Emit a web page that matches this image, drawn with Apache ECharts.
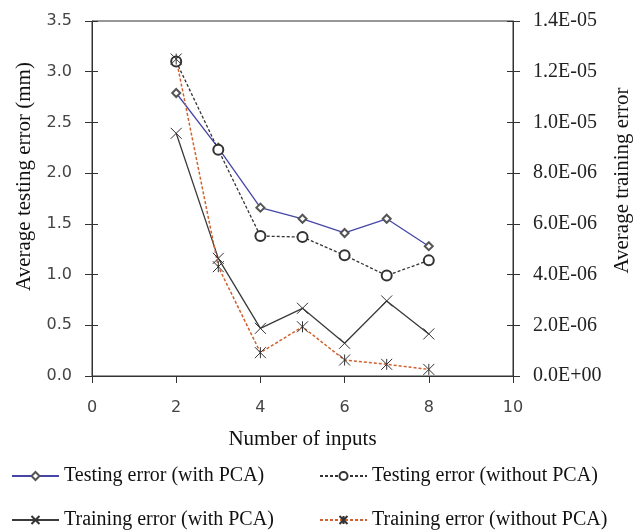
<!DOCTYPE html>
<html><head><meta charset="utf-8">
<script src="https://cdn.jsdelivr.net/npm/echarts@6/dist/echarts.min.js"></script>
<style>html,body{margin:0;padding:0;background:#fff}#c{width:638px;height:532px}</style>
</head><body><div id="c"></div>
<script>
var inputs = [2, 3, 4, 5, 6, 7, 8];
var testWithPCA = [2.79, 2.25, 1.66, 1.55, 1.41, 1.55, 1.28];
var testWithoutPCA = [3.10, 2.23, 1.38, 1.37, 1.19, 0.99, 1.14];
var trainWithPCA = [9.57e-6, 4.64e-6, 1.88e-6, 2.67e-6, 1.29e-6, 2.96e-6, 1.66e-6];
var trainWithoutPCA = [1.25e-5, 4.31e-6, 0.92e-6, 1.94e-6, 0.63e-6, 0.46e-6, 0.26e-6];
var seriesNames = ['Testing error (with PCA)', 'Testing error (without PCA)', 'Training error (with PCA)', 'Training error (without PCA)'];

function pairs(xs, ys){ return xs.map(function(x,i){ return [x, ys[i]]; }); }
function sci(v){
  if (v === 0) return '0.0E+00';
  var s = v.toExponential(1).split('e');
  var e = parseInt(s[1],10);
  var es = (e<0?'-':'+') + (Math.abs(e)<10?'0':'') + Math.abs(e);
  return s[0] + 'E' + es;
}
var serif = 'Liberation Serif';
var sans = 'DejaVu Sans';
var axisCol = '#333';
var crossSym = 'path://M0,0L10,10M10,0L0,10';
var starSym = 'path://M0,0L10,10M10,0L0,10M5,0L5,10';

function leg(name, left, top){
  return {data: [name], left: left, top: top, itemWidth: 47, itemHeight: 10, padding: 0,
          textStyle: {fontFamily: serif, fontSize: 20, color: '#111'}};
}
function innerTicks(min, max, interval, pos){
  return {type: 'value', min: min, max: max, interval: interval, position: pos,
          axisLine: {show: false}, axisLabel: {show: false}, splitLine: {show: false},
          axisTick: {show: true, inside: true, length: 6, lineStyle: {color: axisCol}}};
}

var chart = echarts.init(document.getElementById('c'));
chart.setOption({
  animation: false,
  backgroundColor: '#fff',
  grid: {left: 92, right: 125, top: 21, bottom: 156, show: true, borderColor: axisCol, borderWidth: 1,
         containLabel: false, outerBoundsMode: 'none'},
  legend: [
    leg(seriesNames[0], 11, 466),
    leg(seriesNames[2], 11, 510),
    leg(seriesNames[1], 319, 466),
    leg(seriesNames[3], 319, 510)
  ],
  xAxis: {
    type: 'value', min: 0, max: 10, interval: 2,
    name: 'Number of inputs', nameLocation: 'middle', nameGap: 53,
    nameTextStyle: {fontFamily: serif, fontSize: 21, color: '#111'},
    axisLine: {lineStyle: {color: axisCol}},
    axisTick: {show: true, length: 7, lineStyle: {color: axisCol}},
    axisLabel: {fontFamily: sans, fontSize: 16, color: '#444', margin: 24},
    splitLine: {show: false}
  },
  yAxis: [
    {
      type: 'value', min: 0, max: 3.5, interval: 0.5, position: 'left',
      name: 'Average testing error (mm)', nameLocation: 'middle', nameGap: 57, nameRotate: 90,
      nameTextStyle: {fontFamily: serif, fontSize: 21, color: '#111', padding: [0,0,0,44]},
      axisLine: {show: true, lineStyle: {color: axisCol}},
      axisTick: {show: true, length: 7, lineStyle: {color: axisCol}},
      axisLabel: {fontFamily: sans, fontSize: 16, color: '#444', margin: 20, formatter: function(v){ return v.toFixed(1); }},
      splitLine: {show: false}
    },
    {
      type: 'value', min: 0, max: 1.4e-5, interval: 2e-6, position: 'right',
      name: 'Average training error', nameLocation: 'middle', nameGap: 93, nameRotate: 90,
      nameTextStyle: {fontFamily: serif, fontSize: 21, color: '#111', padding: [0,0,0,36]},
      axisLine: {show: true, lineStyle: {color: axisCol}},
      axisTick: {show: true, length: 7, lineStyle: {color: axisCol}},
      axisLabel: {fontFamily: serif, fontSize: 20, color: '#222', margin: 20, formatter: sci},
      splitLine: {show: false}
    },
    innerTicks(0, 3.5, 0.5, 'left'),
    innerTicks(0, 1.4e-5, 2e-6, 'right')
  ],
  series: [
    {name: seriesNames[0], type: 'line', yAxisIndex: 0, data: pairs(inputs, testWithPCA),
     symbol: 'emptyDiamond', symbolSize: 8, lineStyle: {color: '#4646a8', width: 1.3},
     itemStyle: {color: '#555', borderColor: '#555', borderWidth: 1}},
    {name: seriesNames[1], type: 'line', yAxisIndex: 0, data: pairs(inputs, testWithoutPCA),
     symbol: 'emptyCircle', symbolSize: 10, lineStyle: {color: '#333', width: 1.3, type: [3, 2]},
     itemStyle: {color: '#333', borderColor: '#333', borderWidth: 1}},
    {name: seriesNames[2], type: 'line', yAxisIndex: 1, data: pairs(inputs, trainWithPCA),
     symbol: crossSym, symbolSize: 11, lineStyle: {color: '#3a3a3a', width: 1.3},
     itemStyle: {color: '#333', borderColor: '#333', borderWidth: 1}},
    {name: seriesNames[3], type: 'line', yAxisIndex: 1, data: pairs(inputs, trainWithoutPCA),
     symbol: starSym, symbolSize: 11, lineStyle: {color: '#d0602e', width: 1.5, type: [3, 2]},
     itemStyle: {color: '#333', borderColor: '#333', borderWidth: 1}}
  ]
});
</script>
</body></html>
